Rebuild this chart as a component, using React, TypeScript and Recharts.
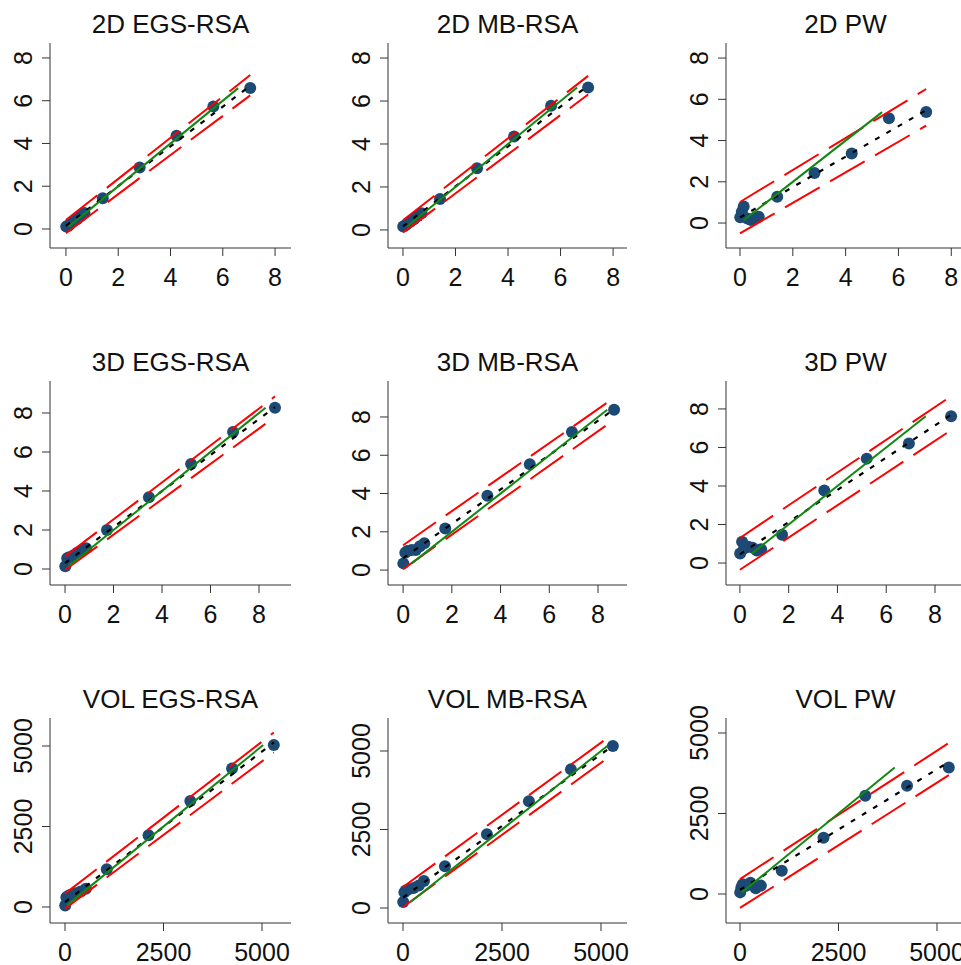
import { ScatterChart, Scatter, XAxis, YAxis } from 'recharts'

// measured x values (same design points in every panel of a row)
const x2D = [0.01, 0.07, 0.14, 0.28, 0.42, 0.56, 0.71, 1.41, 2.82, 4.23, 5.64, 7.05]
const x3D = [0.01, 0.09, 0.17, 0.35, 0.52, 0.69, 0.87, 1.73, 3.46, 5.2, 6.93, 8.66]
const xVol = [5, 35, 70, 140, 265, 400, 530, 1060, 2120, 3180, 4240, 5300]

const y2dEgs = [0.11, 0.14, 0.2, 0.35, 0.45, 0.6, 0.75, 1.44, 2.88, 4.36, 5.73, 6.59]
const y2dMb = [0.16, 0.2, 0.25, 0.38, 0.5, 0.65, 0.78, 1.44, 2.87, 4.35, 5.78, 6.63]
const y2dPw = [0.28, 0.55, 0.8, 0.22, 0.15, 0.25, 0.3, 1.27, 2.43, 3.37, 5.08, 5.38]
const y3dEgs = [0.14, 0.55, 0.6, 0.7, 0.85, 0.95, 1.07, 2.0, 3.68, 5.38, 7.03, 8.27]
const y3dMb = [0.35, 0.9, 1.0, 1.05, 1.05, 1.25, 1.4, 2.17, 3.88, 5.53, 7.22, 8.38]
const y3dPw = [0.5, 1.1, 0.75, 0.85, 0.8, 0.65, 0.72, 1.47, 3.77, 5.42, 6.2, 7.62]
const yVolEgs = [50, 300, 330, 380, 430, 480, 570, 1170, 2230, 3290, 4300, 5030]
const yVolMb = [190, 500, 560, 600, 640, 720, 860, 1330, 2350, 3400, 4415, 5160]
const yVolPw = [50, 200, 300, 250, 350, 180, 260, 720, 1750, 3050, 3360, 3927]

// fitted line and prediction band, y at x = 0 and at the last x
const fit2dEgs = [0.15, 6.7], up2dEgs = [0.42, 7.2], lo2dEgs = [-0.2, 6.25]
const fit2dMb = [0.17, 6.72], up2dMb = [0.45, 7.17], lo2dMb = [-0.12, 6.3]
const fit2dPw = [0.27, 5.47], up2dPw = [1.02, 6.5], lo2dPw = [-0.5, 4.72]
const fit3dEgs = [0.3, 8.3], up3dEgs = [0.65, 8.85], lo3dEgs = [-0.05, 7.8]
const fit3dMb = [0.62, 8.4], up3dMb = [1.3, 9.0], lo3dMb = [0.05, 7.85]
const fit3dPw = [0.45, 7.7], up3dPw = [1.3, 8.66], lo3dPw = [-0.35, 6.9]
const fitVolEgs = [150, 5110], upVolEgs = [415, 5420], loVolEgs = [-50, 4800]
const fitVolMb = [330, 5170], upVolMb = [670, 5540], loVolMb = [30, 4900]
const fitVolPw = [130, 4100], upVolPw = [464, 4690], loVolPw = [-433, 3690]

const ticksSmall = [0, 2, 4, 6, 8]
const ticksVol = [0, 2500, 5000]

const FONT = "'Liberation Sans', Arial, sans-serif"
const AXIS = '#333'
const DOT = '#1d4a75'

const colLeft = [50, 388, 726]
const colRight = [291, 627, 965]
const rowTop = [43, 381, 718]
const rowBottom = [248, 585, 923]

interface PanelDef {
  title: string
  xs: number[]
  ys: number[]
  fit: number[]
  up: number[]
  lo: number[]
  xDomain: [number, number]
  yDomain: [number, number]
  ticks: number[]
}

const panels: PanelDef[] = [
  { title: '2D EGS-RSA', xs: x2D, ys: y2dEgs, fit: fit2dEgs, up: up2dEgs, lo: lo2dEgs, xDomain: [-0.61, 8.61], yDomain: [-0.89, 8.7], ticks: ticksSmall },
  { title: '2D MB-RSA', xs: x2D, ys: y2dMb, fit: fit2dMb, up: up2dMb, lo: lo2dMb, xDomain: [-0.57, 8.53], yDomain: [-0.84, 8.7], ticks: ticksSmall },
  { title: '2D PW', xs: x2D, ys: y2dPw, fit: fit2dPw, up: up2dPw, lo: lo2dPw, xDomain: [-0.53, 8.52], yDomain: [-1.21, 8.73], ticks: ticksSmall },
  { title: '3D EGS-RSA', xs: x3D, ys: y3dEgs, fit: fit3dEgs, up: up3dEgs, lo: lo3dEgs, xDomain: [-0.62, 9.32], yDomain: [-0.82, 9.64], ticks: ticksSmall },
  { title: '3D MB-RSA', xs: x3D, ys: y3dMb, fit: fit3dMb, up: up3dMb, lo: lo3dMb, xDomain: [-0.62, 9.19], yDomain: [-0.78, 9.88], ticks: ticksSmall },
  { title: '3D PW', xs: x3D, ys: y3dPw, fit: fit3dPw, up: up3dPw, lo: lo3dPw, xDomain: [-0.57, 9.23], yDomain: [-1.14, 9.45], ticks: ticksSmall },
  { title: 'VOL EGS-RSA', xs: xVol, ys: yVolEgs, fit: fitVolEgs, up: upVolEgs, lo: loVolEgs, xDomain: [-381, 5736], yDomain: [-497, 5870], ticks: ticksVol },
  { title: 'VOL MB-RSA', xs: xVol, ys: yVolMb, fit: fitVolMb, up: upVolMb, lo: loVolMb, xDomain: [-379, 5657], yDomain: [-478, 6051], ticks: ticksVol },
  { title: 'VOL PW', xs: xVol, ys: yVolPw, fit: fitVolPw, up: upVolPw, lo: loVolPw, xDomain: [-355, 5711], yDomain: [-901, 5466], ticks: ticksVol },
]

const XTick = (props: any) => (
  <text x={props.x} y={props.y} dy={20} textAnchor="middle" fontSize={25} fontFamily={FONT} fill="#111">
    {props.payload.value}
  </text>
)

const YTick = (props: any) => (
  <text
    x={props.x}
    y={props.y}
    transform={`rotate(-90 ${props.x} ${props.y})`}
    textAnchor="middle"
    fontSize={25}
    fontFamily={FONT}
    fill="#111"
  >
    {props.payload.value}
  </text>
)

const noShape = () => <g />
const dotShape = (p: any) => <circle cx={p.cx} cy={p.cy} r={6} fill={DOT} />

function Panel({ def, row, col }: { def: PanelDef; row: number; col: number }) {
  const left = colLeft[col]
  const top = rowTop[row]
  const w = colRight[col] - left
  const h = rowBottom[row] - top
  const xEnd = def.xs[def.xs.length - 1]
  const pts = def.xs.map((x, i) => ({ x, y: def.ys[i] }))
  const line = (v: number[]) => [{ x: 0, y: v[0] }, { x: xEnd, y: v[1] }]
  const yMin = Math.min(...def.ys)
  const yMax = Math.max(...def.ys)
  const ident = [{ x: yMin, y: yMin }, { x: yMax, y: yMax }]

  return (
    <>
      <div
        style={{
          position: 'absolute',
          left,
          width: w,
          top: top - 10 - 22,
          textAlign: 'center',
          fontFamily: FONT,
          fontSize: 26,
          lineHeight: '26px',
          color: '#111',
          whiteSpace: 'nowrap',
        }}
      >
        {def.title}
      </div>
      <div style={{ position: 'absolute', left: left - 50, top: top - 43 }}>
        <ScatterChart width={50 + w + 30} height={43 + h + 50} margin={{ top: 43, right: 30, bottom: 0, left: 0 }}>
          <XAxis
            type="number"
            dataKey="x"
            domain={def.xDomain}
            allowDataOverflow
            ticks={def.ticks}
            interval={0}
            height={50}
            tickSize={8}
            tickMargin={10}
            axisLine={{ stroke: AXIS }}
            tickLine={{ stroke: AXIS }}
            tick={XTick}
          />
          <YAxis
            type="number"
            dataKey="y"
            domain={def.yDomain}
            allowDataOverflow
            ticks={def.ticks}
            interval={0}
            width={50}
            tickSize={8}
            tickMargin={10}
            axisLine={{ stroke: AXIS }}
            tickLine={{ stroke: AXIS }}
            tick={YTick}
          />
          <Scatter data={pts} shape={dotShape} isAnimationActive={false} />
          <Scatter
            data={line(def.fit)}
            shape={noShape}
            line={{ stroke: '#000', strokeWidth: 2.2, strokeDasharray: '5 8' }}
            isAnimationActive={false}
          />
          <Scatter
            data={line(def.up)}
            shape={noShape}
            line={{ stroke: '#ff0000', strokeWidth: 2, strokeDasharray: '40 12' }}
            isAnimationActive={false}
          />
          <Scatter
            data={line(def.lo)}
            shape={noShape}
            line={{ stroke: '#ff0000', strokeWidth: 2, strokeDasharray: '40 12' }}
            isAnimationActive={false}
          />
          <Scatter
            data={ident}
            shape={noShape}
            line={{ stroke: '#118811', strokeWidth: 2 }}
            isAnimationActive={false}
          />
        </ScatterChart>
      </div>
    </>
  )
}

export default function App() {
  return (
    <div
      style={{
        position: 'absolute',
        left: 0,
        top: 0,
        width: 961,
        height: 965,
        overflow: 'hidden',
        background: '#fff',
      }}
    >
      {panels.map((p, i) => (
        <Panel key={p.title} def={p} row={Math.floor(i / 3)} col={i % 3} />
      ))}
    </div>
  )
}
